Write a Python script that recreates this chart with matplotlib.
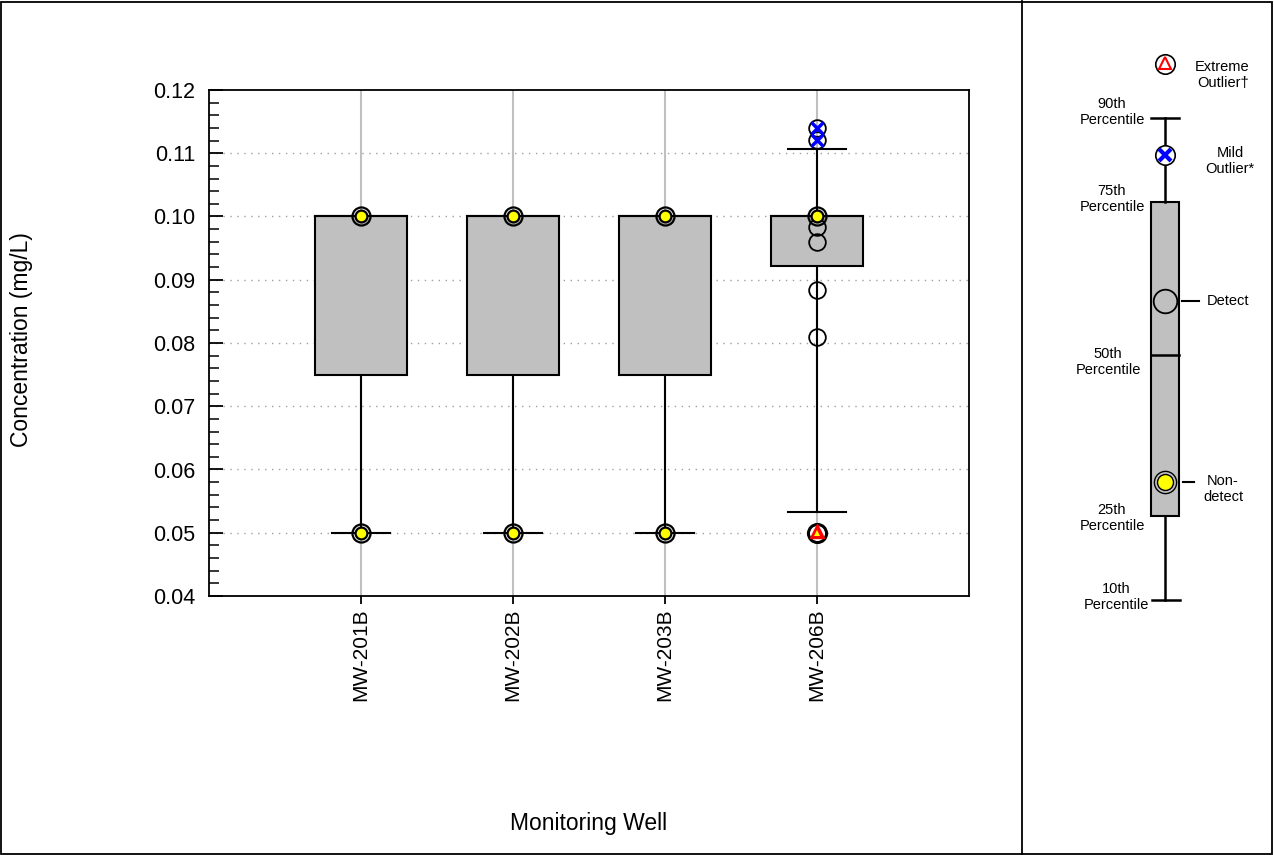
#
# Box plot of concentration by monitoring well, with the legend panel
# drawn at the right (percentiles, detects, non-detects, outliers)
#
import matplotlib
matplotlib.use('Agg')
import matplotlib.pyplot as plt
from matplotlib.ticker import MultipleLocator, FormatStrFormatter
from matplotlib.patches import Rectangle
from matplotlib.lines import Line2D

plt.rcParams['font.family'] = ['Liberation Sans', 'DejaVu Sans']

# data
wells = ['MW-201B', 'MW-202B', 'MW-203B', 'MW-206B']
p10 = [0.05, 0.05, 0.05, 0.0533]
q25 = [0.075, 0.075, 0.075, 0.0922]
q50 = [0.1, 0.1, 0.1, 0.1]
q75 = [0.1, 0.1, 0.1, 0.1]
p90 = [0.1, 0.1, 0.1, 0.1107]

nondetects = [[0.1, 0.05], [0.1, 0.05], [0.1, 0.05], [0.1]]
detects = [[], [], [], [0.0983, 0.0960, 0.0884, 0.0810]]
mild_outliers = [[], [], [], [0.1121, 0.1140]]
extreme_outliers = [[], [], [], [0.05]]

W, H = 1274, 855
fig = plt.figure(figsize=(W / 100, H / 100), dpi=100)

# outer frame and divider
fig.add_artist(Rectangle((1.5 / W, 1.5 / H), 1 - 3.5 / W, 1 - 3.5 / H, transform=fig.transFigure,
                         fill=False, lw=1.3, ec='black'))
fig.add_artist(Line2D([1022 / W, 1022 / W], [1.5 / H, 1 - 1.5 / H], transform=fig.transFigure,
                      lw=1.3, color='black'))

ax = fig.add_axes([209 / W, 1 - 596 / H, 760 / W, 506 / H])
ax.set_xlim(0, len(wells) + 1)
ax.set_ylim(0.04, 0.12)

pos = list(range(1, len(wells) + 1))
box_w = 0.6
cap_w = 0.38
gray = '#c0c0c0'

# grid
for y in [0.05, 0.06, 0.07, 0.08, 0.09, 0.10, 0.11]:
    ax.axhline(y, color='#a0a0a0', lw=1.0, ls=(0, (1, 4)), zorder=0)
for x in pos:
    ax.axvline(x, color=gray, lw=1.5, zorder=0)

for i, x in enumerate(pos):
    # whiskers
    if p10[i] < q25[i]:
        ax.plot([x, x], [p10[i], q25[i]], color='black', lw=1.5, zorder=2)
        ax.plot([x - cap_w / 2, x + cap_w / 2], [p10[i], p10[i]], color='black', lw=1.5, zorder=2)
    if p90[i] > q75[i]:
        ax.plot([x, x], [q75[i], p90[i]], color='black', lw=1.5, zorder=2)
        ax.plot([x - cap_w / 2, x + cap_w / 2], [p90[i], p90[i]], color='black', lw=1.5, zorder=2)
    # box
    ax.add_patch(Rectangle((x - box_w / 2, q25[i]), box_w, q75[i] - q25[i],
                           fc=gray, ec='black', lw=1.5, zorder=3))
    ax.plot([x - box_w / 2, x + box_w / 2], [q50[i], q50[i]], color='black', lw=1.5, zorder=3)

    # detects: open circles
    for v in detects[i]:
        ax.plot(x, v, 'o', ms=12, mfc='none', mec='black', mew=1.3, zorder=5)
    # mild outliers: circle with blue x
    for v in mild_outliers[i]:
        ax.plot(x, v, 'o', ms=12, mfc='none', mec='black', mew=1.3, zorder=5)
        ax.plot(x, v, 'x', ms=9, mec='blue', mew=2.5, zorder=6)
    # non-detects: double ring, yellow centre
    for v in nondetects[i]:
        ax.plot(x, v, 'o', ms=13, mfc='none', mec='black', mew=1.6, zorder=6)
        ax.plot(x, v, 'o', ms=8.5, mfc='yellow', mec='black', mew=1.6, zorder=7)
    # extreme outliers (non-detect): ring, red triangle, yellow core
    for v in extreme_outliers[i]:
        ax.plot(x, v, 'o', ms=13, mfc='white', mec='black', mew=2.2, zorder=6)
        ax.plot(x, v + 0.0002, '^', ms=10, mfc='red', mec='red', mew=1, zorder=7)
        ax.plot(x, v, '^', ms=4.5, mfc='yellow', mec='yellow', mew=0, zorder=8)

ax.set_xticks(pos)
ax.set_xticklabels(wells, rotation=90, fontsize=15)
ax.tick_params(axis='x', direction='out', length=6, width=1.3, pad=3, top=False)

ax.yaxis.set_major_locator(MultipleLocator(0.01))
ax.yaxis.set_minor_locator(MultipleLocator(0.002))
ax.yaxis.set_major_formatter(FormatStrFormatter('%.2f'))
ax.tick_params(axis='y', which='major', direction='in', length=10, width=1.3, labelsize=15.5, pad=10,
               right=False)
ax.tick_params(axis='y', which='minor', direction='in', length=7, width=1.1, right=False)
for s in ax.spines.values():
    s.set_linewidth(1.3)

fig.text(22 / W, 1 - 340 / H, 'Concentration (mg/L)', rotation=90, ha='center', va='center', fontsize=16.5)
fig.text(589 / W, 1 - 823 / H, 'Monitoring Well', ha='center', va='center', fontsize=16.5)

# legend panel, in pixel coordinates
lg = fig.add_axes([1022 / W, 0, (W - 1022) / W, 1])
lg.set_xlim(1022, W)
lg.set_ylim(H, 0)
lg.axis('off')

cx = 1165
lg.plot([cx, cx], [118, 202], color='black', lw=1.8)
lg.plot([cx, cx], [516, 600], color='black', lw=1.8)
lg.plot([1151, 1179], [118, 118], color='black', lw=1.8)
lg.plot([1152, 1180], [600, 600], color='black', lw=1.8)
lg.add_patch(Rectangle((1151, 202), 28, 314, fc=gray, ec='black', lw=1.5))
lg.plot([1151, 1179], [355, 355], color='black', lw=1.8)

# legend markers
lg.plot(cx, 64, 'o', ms=14, mfc='white', mec='black', mew=1.2)
lg.plot(cx, 63, '^', ms=9, mfc='white', mec='red', mew=1.5)
lg.plot(cx, 155, 'o', ms=14, mfc='white', mec='black', mew=1.2)
lg.plot(cx, 155, 'x', ms=9, mec='blue', mew=3)
lg.plot(cx, 301, 'o', ms=17, mfc='none', mec='black', mew=1.3)
lg.plot(cx, 482, 'o', ms=16, mfc='none', mec='black', mew=1.0)
lg.plot(cx, 482, 'o', ms=11.5, mfc='yellow', mec='black', mew=1.0)
lg.plot([1182, 1199], [301, 301], color='black', lw=1.5)
lg.plot([1183, 1194], [482, 482], color='black', lw=1.5)

fs = 10.5
lg.text(1249, 75, 'Extreme\nOutlier\u2020', ha='right', va='center', fontsize=fs, linespacing=1.1)
lg.text(1112, 112, '90th\nPercentile', ha='center', va='center', fontsize=fs, linespacing=1.1)
lg.text(1230, 161, 'Mild\nOutlier*', ha='center', va='center', fontsize=fs, linespacing=1.1)
lg.text(1112, 199, '75th\nPercentile', ha='center', va='center', fontsize=fs, linespacing=1.1)
lg.text(1207, 301, 'Detect', ha='left', va='center', fontsize=fs)
lg.text(1108, 362, '50th\nPercentile', ha='center', va='center', fontsize=fs, linespacing=1.1)
lg.text(1223, 489, 'Non-\ndetect', ha='center', va='center', fontsize=fs, linespacing=1.1)
lg.text(1112, 518, '25th\nPercentile', ha='center', va='center', fontsize=fs, linespacing=1.1)
lg.text(1116, 597, '10th\nPercentile', ha='center', va='center', fontsize=fs, linespacing=1.1)

fig.savefig('out.png', dpi=100)
